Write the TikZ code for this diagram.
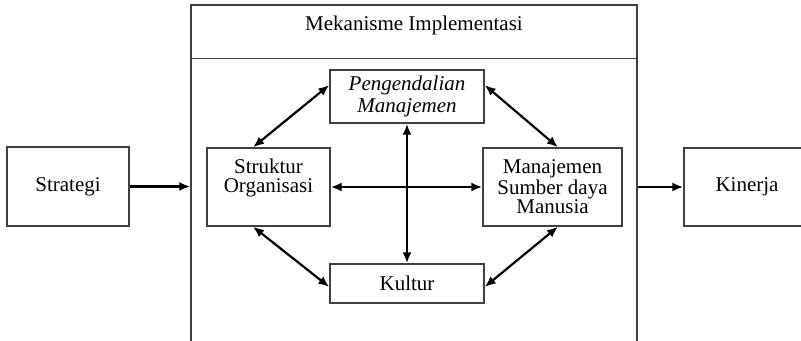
\documentclass[tikz,border=0pt]{standalone}
\usepackage{fontspec}
\setmainfont{Liberation Serif}
\usetikzlibrary{arrows.meta}

\tikzset{
  box/.style={draw=black!75, line width=0.7pt, inner sep=0pt},
  flow/.style={line width=1.1pt, -{Latex[length=5.5pt,width=4.5pt]}},
  both/.style={flow, {Latex[length=5.5pt,width=4.5pt]}-{Latex[length=5.5pt,width=4.5pt]}},
}

\begin{document}
\begin{tikzpicture}[x=0.5pt, y=-0.5pt, font=\fontsize{10.5}{9.5}\selectfont]
  % picture frame, 801 x 341 px
  \useasboundingbox (0,0) rectangle (801,341);
  \clip (0,0) rectangle (801,341);
  \node[box, minimum width=223pt, minimum height=170pt] (impl) at (414,175) {};
  \node (title) at (414,25) {Mekanisme Implementasi};
  \draw[black!75, line width=0.7pt] ([yshift=-27pt]impl.north west) -- ([yshift=-27pt]impl.north east);
  \node[box, minimum width=61pt, minimum height=39.5pt] (strat) at (68,186.5) {Strategi};
  \node[box, minimum width=63pt, minimum height=39pt] (kin) at (747,187) {Kinerja};
  \node[box, minimum width=61.5pt, minimum height=39pt,
    label={[align=center, anchor=north, yshift=-2.5pt]north:Struktur\\Organisasi}] (struk) at (268.5,187) {};
  \node[box, minimum width=69.5pt, minimum height=39pt,
    label={[align=center, anchor=north, yshift=-2.5pt]north:Manajemen\\Sumber daya\\Manusia}] (msdm) at (552.5,187) {};
  \node[box, minimum width=77pt, minimum height=26.5pt, align=center,
    font=\fontsize{10.5}{11}\itshape] (peng) at (407,96.5) {Pengendalian\\Manajemen};
  \node[box, minimum width=77pt, minimum height=19.5pt] (kul) at (407,283.5) {Kultur};
  % connectors
  \draw[flow] (strat.east) -- (strat.east -| impl.west);
  \draw[flow] (kin.west -| impl.east) -- (kin.west);
  \draw[both] (struk.east) -- (msdm.west);
  \draw[both] (peng.south) -- (kul.north);
  \draw[both] ([xshift=-7.75pt]struk.north) -- ([yshift=5.75pt]peng.west);
  \draw[both] ([yshift=5.75pt]peng.east) -- ([xshift=2.75pt]msdm.north);
  \draw[both] ([xshift=-7.75pt]struk.south) -- ([yshift=-1.75pt]kul.west);
  \draw[both] ([xshift=2.75pt]msdm.south) -- ([yshift=-1.75pt]kul.east);
\end{tikzpicture}
\end{document}
